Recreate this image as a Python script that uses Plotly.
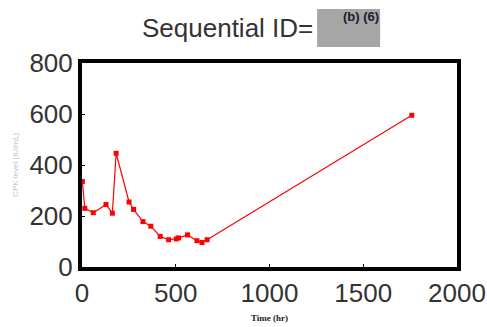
import plotly.graph_objects as go

# CPK level over time
time_hr = [2, 15, 60, 128, 162, 182, 251, 275, 325, 367, 417, 462, 503, 515, 563, 613, 640, 667, 1759]
cpk_level = [335, 230, 213, 245, 211, 446, 255, 226, 178, 160, 120, 107, 110, 114, 126, 103, 96, 107, 595]

x_ticks = [0, 500, 1000, 1500, 2000]
y_ticks = [0, 200, 400, 600, 800]

fig = go.Figure()
fig.add_trace(go.Scatter(
    x=time_hr, y=cpk_level, mode="lines+markers",
    line=dict(color="#ff0000", width=1.2),
    marker=dict(symbol="square", size=5, color="#ff0000"),
    showlegend=False, cliponaxis=False,
))

axis_common = dict(
    showgrid=False, zeroline=False, showline=True, mirror=True,
    linecolor="black", linewidth=4, automargin=False,
    ticks="inside", ticklen=3, tickwidth=1, tickcolor="black",
    tickfont=dict(family="Liberation Sans, Arial", size=26, color="#333333"),
)

fig.update_xaxes(range=[0, 2000], tickvals=x_ticks, **axis_common)
fig.update_yaxes(range=[0, 800], tickvals=y_ticks, **axis_common)

fig.update_layout(
    width=487, height=327,
    margin=dict(l=82, r=30, t=63, b=60),
    paper_bgcolor="white", plot_bgcolor="white",
    shapes=[dict(type="rect", xref="paper", yref="paper",
                 x0=0.627, x1=0.795, y0=1.078, y1=1.265,
                 fillcolor="#a6a6a6", line=dict(width=0))],
    annotations=[
        dict(text="Sequential ID=", xref="paper", yref="paper", x=0.622, y=1.172,
             xanchor="right", yanchor="middle", showarrow=False,
             font=dict(family="Liberation Sans, Arial", size=26, color="#333333")),
        dict(text="<b>(b) (6)</b>", xref="paper", yref="paper", x=0.797, y=1.275,
             xanchor="right", yanchor="top", showarrow=False,
             font=dict(family="Liberation Sans, Arial", size=13, color="#1c1c30")),
        dict(text="<b>Time (hr)</b>", xref="paper", yref="paper", x=0.5, y=-0.25,
             xanchor="center", yanchor="middle", showarrow=False,
             font=dict(family="Liberation Serif, Times New Roman", size=9, color="#222222")),
        dict(text="CPK level (IU/mL)", xref="paper", yref="paper", x=-0.179, y=0.5,
             xanchor="center", yanchor="middle", showarrow=False, textangle=-90,
             font=dict(family="Liberation Sans, Arial", size=8, color="#c4c4c4")),
    ],
)

fig.write_html("out.html")
